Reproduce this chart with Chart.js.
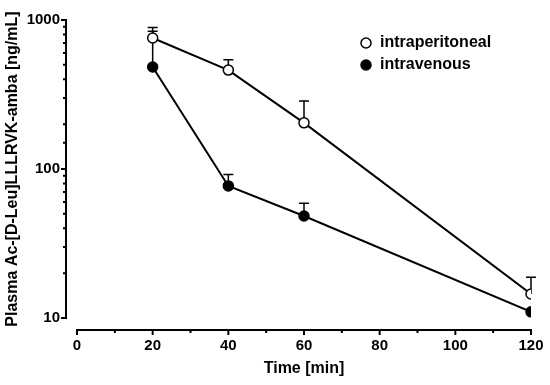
<!DOCTYPE html>
<html>
<head>
<meta charset="utf-8">
<script src="https://cdn.jsdelivr.net/npm/chart.js@4/dist/chart.umd.min.js"></script>
<style>
  html, body { margin: 0; padding: 0; background: #fff; }
  #wrap { width: 550px; height: 385px; }
</style>
</head>
<body>
<div id="wrap"><canvas id="myChart" width="550" height="385"></canvas></div>
<script>
// data
const times = [20, 40, 60, 120];
const ipValues = [757, 461, 204, 14.5];
const ipErrUp = [890, 540, 286, 18.8];
const ivValues = [484, 77, 48.4, 11];
const ivErrUp = [840, 92, 59, 11];
const yTickLabels = [10, 100, 1000];
const xTickLabels = [0, 20, 40, 60, 80, 100, 120];

const FONT = "'Liberation Sans', Arial, sans-serif";

// error bars, axis lines and legend drawn with the chart's scales
const prismPlugin = {
  id: 'prism',
  beforeDatasetsDraw(chart) {
    const ctx = chart.ctx;
    const xs = chart.scales.x, ys = chart.scales.y;
    const sets = [[ipValues, ipErrUp], [ivValues, ivErrUp]];
    ctx.save();
    ctx.strokeStyle = '#000';
    ctx.lineWidth = 1.5;
    sets.forEach(([vals, ups]) => {
      vals.forEach((v, i) => {
        if (ups[i] <= v) return;
        const px = xs.getPixelForValue(times[i]);
        const y0 = ys.getPixelForValue(v);
        const y1 = ys.getPixelForValue(ups[i]);
        ctx.beginPath();
        ctx.moveTo(px, y0);
        ctx.lineTo(px, y1);
        ctx.moveTo(px - 5, y1);
        ctx.lineTo(px + 5, y1);
        ctx.stroke();
      });
    });
    ctx.restore();
  },
  afterDraw(chart) {
    const ctx = chart.ctx;
    const area = chart.chartArea;
    const xs = chart.scales.x, ys = chart.scales.y;
    const ax = area.left - 11;
    const ay = area.bottom + 12;
    ctx.save();
    ctx.strokeStyle = '#000';
    ctx.lineWidth = 2;
    ctx.lineCap = 'square';
    // y axis
    ctx.beginPath();
    ctx.moveTo(ax, area.top);
    ctx.lineTo(ax, area.bottom);
    ys.ticks.forEach(t => {
      const py = ys.getPixelForValue(t.value);
      const major = yTickLabels.includes(t.value);
      ctx.moveTo(ax, py);
      ctx.lineTo(ax - (major ? 4 : 2), py);
    });
    ctx.stroke();
    // x axis
    ctx.beginPath();
    ctx.moveTo(area.left, ay);
    ctx.lineTo(area.right, ay);
    for (let v = 0; v <= 120; v += 10) {
      const px = xs.getPixelForValue(v);
      ctx.moveTo(px, ay);
      ctx.lineTo(px, ay + (v % 20 === 0 ? 4 : 2));
    }
    ctx.stroke();
    ctx.restore();

    // legend
    ctx.save();
    const items = chart.data.datasets;
    items.forEach((ds, i) => {
      const ly = 43 + i * 22;
      ctx.beginPath();
      ctx.arc(366, ly, 5, 0, Math.PI * 2);
      ctx.fillStyle = ds.pointBackgroundColor;
      ctx.fill();
      ctx.lineWidth = 1.5;
      ctx.strokeStyle = '#000';
      ctx.stroke();
      ctx.fillStyle = '#000';
      ctx.font = 'bold 16px ' + FONT;
      ctx.textBaseline = 'middle';
      ctx.fillText(ds.label, 380, ly);
    });
    ctx.restore();
  }
};

const ctx = document.getElementById('myChart').getContext('2d');
const myChart = new Chart(ctx, {
  type: 'line',
  data: {
    datasets: [{
      label: 'intraperitoneal',
      data: times.map((t, i) => ({ x: t, y: ipValues[i] })),
      borderColor: '#000',
      borderWidth: 2,
      pointRadius: 5,
      pointBorderWidth: 1.5,
      pointBackgroundColor: '#fff',
      pointBorderColor: '#000',
      tension: 0
    }, {
      label: 'intravenous',
      data: times.map((t, i) => ({ x: t, y: ivValues[i] })),
      borderColor: '#000',
      borderWidth: 2,
      pointRadius: 5,
      pointBorderWidth: 1.5,
      pointBackgroundColor: '#000',
      pointBorderColor: '#000',
      tension: 0
    }]
  },
  options: {
    responsive: false,
    animation: false,
    events: [],
    layout: { padding: { left: 0, top: 20, right: 19, bottom: 0 } },
    plugins: {
      legend: { display: false },
      tooltip: { enabled: false }
    },
    scales: {
      x: {
        type: 'linear',
        min: 0,
        max: 120,
        grid: { display: false },
        border: { display: false },
        ticks: {
          stepSize: 20,
          padding: 11,
          color: '#000',
          font: { family: FONT, size: 15, weight: 'bold' },
          callback: v => xTickLabels.includes(v) ? String(v) : ''
        },
        title: {
          display: true,
          text: 'Time [min]',
          color: '#000',
          padding: { top: 0, bottom: 7 },
          font: { family: FONT, size: 16, weight: 'bold' }
        },
        afterFit: s => { s.height = 67; s.paddingLeft = 0; s.paddingRight = 0; }
      },
      y: {
        type: 'logarithmic',
        min: 10,
        max: 1000,
        grid: { display: false },
        border: { display: false },
        ticks: {
          padding: 9,
          color: '#000',
          font: { family: FONT, size: 15, weight: 'bold' },
          autoSkip: false,
          callback: v => yTickLabels.includes(v) ? String(v) : ''
        },
        title: {
          display: true,
          text: 'Plasma Ac-[D-Leu]LLLRVK-amba [ng/mL]',
          color: '#000',
          padding: { top: 3, bottom: 0 },
          font: { family: FONT, size: 16, weight: 'bold' }
        },
        afterFit: s => { s.width = 77; s.paddingTop = 0; s.paddingBottom = 0; }
      }
    }
  },
  plugins: [prismPlugin]
});
</script>
</body>
</html>
